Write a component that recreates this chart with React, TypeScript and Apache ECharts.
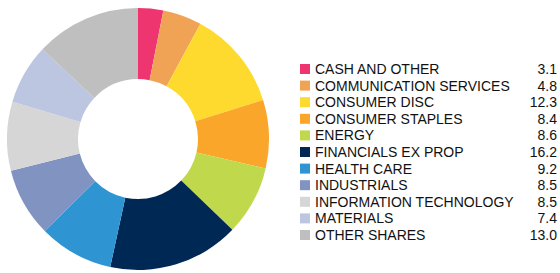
import React, { useEffect, useRef } from "react";
import * as echarts from "echarts";

const categories = [
  "CASH AND OTHER",
  "COMMUNICATION SERVICES",
  "CONSUMER DISC",
  "CONSUMER STAPLES",
  "ENERGY",
  "FINANCIALS EX PROP",
  "HEALTH CARE",
  "INDUSTRIALS",
  "INFORMATION TECHNOLOGY",
  "MATERIALS",
  "OTHER SHARES",
];
const values = [3.1, 4.8, 12.3, 8.4, 8.6, 16.2, 9.2, 8.5, 8.5, 7.4, 13.0];
const colors = [
  "#EF356F",
  "#F0A354",
  "#FFDA2E",
  "#F9A62A",
  "#C0D84B",
  "#002855",
  "#2F95D2",
  "#8193C1",
  "#D6D6D6",
  "#BDC6E1",
  "#BFBFBF",
];

export default function App() {
  const ref = useRef<HTMLDivElement>(null);
  useEffect(() => {
    document.body.style.margin = "0";
    if (!ref.current) return;
    const chart = echarts.init(ref.current, undefined, { renderer: "svg" });
    const valueMap: Record<string, number> = {};
    categories.forEach((c, i) => (valueMap[c] = values[i]));
    chart.setOption({
      animation: false,
      color: colors,
      legend: {
        orient: "vertical",
        left: 300,
        top: 62,
        padding: 0,
        itemWidth: 10,
        itemHeight: 10,
        itemGap: 2.6,
        icon: "rect",
        selectedMode: false,
        data: categories,
        formatter: (name: string) =>
          `{n|${name}}{v|${valueMap[name].toFixed(1)}}`,
        textStyle: {
          fontFamily: "Liberation Sans, Arial, sans-serif",
          fontSize: 14,
          lineHeight: 14,
          color: "#111",
          rich: {
            n: {
              width: 200,
              fontSize: 14,
              lineHeight: 14,
              fontFamily: "Liberation Sans, Arial, sans-serif",
              color: "#111",
            },
            v: {
              width: 42,
              align: "right",
              fontSize: 14,
              lineHeight: 14,
              fontFamily: "Liberation Sans, Arial, sans-serif",
              color: "#111",
            },
          },
        },
      },
      series: [
        {
          type: "pie",
          center: [138, 139],
          radius: [60, 131],
          startAngle: 90,
          clockwise: true,
          label: { show: false },
          labelLine: { show: false },
          emphasis: { disabled: true },
          itemStyle: { borderWidth: 0 },
          data: categories.map((c, i) => ({ name: c, value: values[i] })),
        },
      ],
    });
    return () => chart.dispose();
  }, []);
  return <div ref={ref} style={{ width: 560, height: 273 }} />;
}
